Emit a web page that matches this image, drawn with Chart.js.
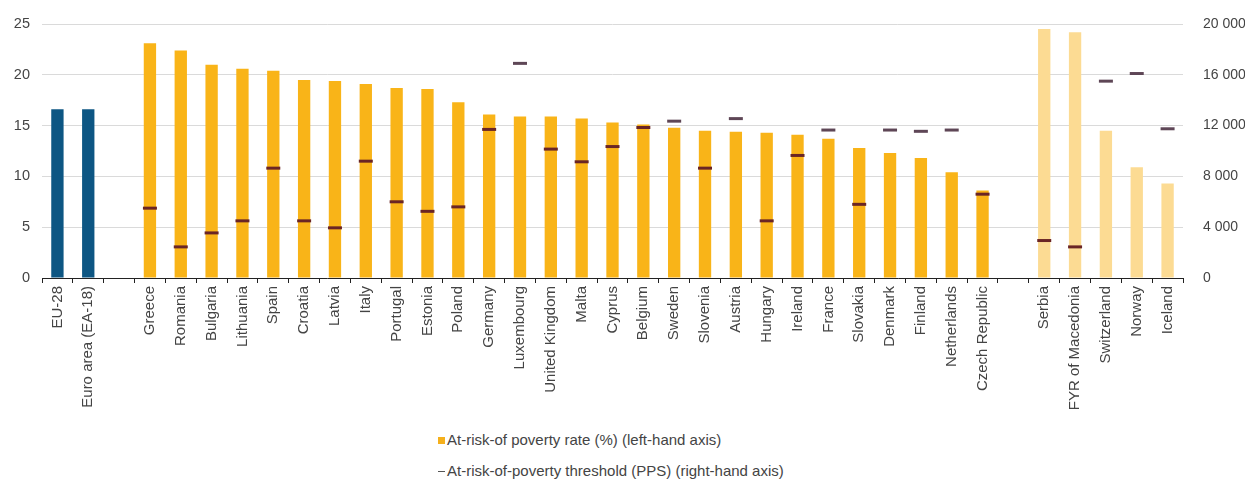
<!DOCTYPE html>
<html>
<head>
<meta charset="utf-8">
<script src="https://cdn.jsdelivr.net/npm/chart.js@4"></script>
<style>
  body { margin: 0; background: #fff; font-family: "Liberation Sans", Arial, sans-serif; }
  #wrap { width: 1245px; height: 428px; }
  #legend { margin-left: 438px; font-size: 15px; color: #444; }
  #legend div { height: 31px; line-height: 24px; }
  .sq { display: inline-block; width: 7px; height: 7px; background: #f5b01c; margin-right: 2px; vertical-align: 1px; }
  .dash { display: inline-block; width: 7px; height: 1px; background: #555; margin-right: 2px; vertical-align: 4px; }
</style>
</head>
<body>
<div id="wrap"><canvas id="povertyChart"></canvas></div>
<div id="legend">
  <div><span class="sq"></span>At-risk-of poverty rate (%) (left-hand axis)</div>
  <div><span class="dash"></span>At-risk-of-poverty threshold (PPS) (right-hand axis)</div>
</div>
<script>
(() => {
  // categories (empty strings are the gaps between groups)
  const countries = [
    "EU-28", "Euro area (EA-18)", "",
    "Greece", "Romania", "Bulgaria", "Lithuania", "Spain", "Croatia", "Latvia", "Italy",
    "Portugal", "Estonia", "Poland", "Germany", "Luxembourg", "United Kingdom", "Malta",
    "Cyprus", "Belgium", "Sweden", "Slovenia", "Austria", "Hungary", "Ireland", "France",
    "Slovakia", "Denmark", "Finland", "Netherlands", "Czech Republic", "",
    "Serbia", "FYR of Macedonia", "Switzerland", "Norway", "Iceland"
  ];

  // at-risk-of-poverty rate (%)
  const povertyRate = [
    16.6, 16.6, null,
    23.1, 22.4, 21.0, 20.6, 20.4, 19.5, 19.4, 19.1,
    18.7, 18.6, 17.3, 16.1, 15.9, 15.9, 15.7,
    15.3, 15.1, 14.8, 14.5, 14.4, 14.3, 14.1, 13.7,
    12.8, 12.3, 11.8, 10.4, 8.6, null,
    24.5, 24.2, 14.5, 10.9, 9.3
  ];

  // at-risk-of-poverty threshold (PPS)
  const povertyThreshold = [
    null, null, null,
    5500, 2450, 3550, 4500, 8650, 4500, 3950, 9200,
    6000, 5250, 5600, 11700, 16900, 10150, 9150,
    10350, 11850, 12350, 8650, 12550, 4500, 9650, 11650,
    5800, 11650, 11550, 11650, 6600, null,
    2950, 2450, 15500, 16100, 11750
  ];

  const leftTicks = [0, 5, 10, 15, 20, 25];
  const rightTicks = [0, 4000, 8000, 12000, 16000, 20000];

  const aggregates = ["EU-28", "Euro area (EA-18)"];
  const nonEU = ["Serbia", "FYR of Macedonia", "Switzerland", "Norway", "Iceland"];

  const barColors = countries.map(c =>
    aggregates.includes(c) ? "#0d5683" : nonEU.includes(c) ? "#fcdb93" : "#f9b418");
  const markColors = povertyThreshold.map((t, i) =>
    t !== null && povertyRate[i] !== null && t / 800 > povertyRate[i] ? "#5e4656" : "#6a2525");

  const fmt = v => String(v).replace(/\B(?=(\d{3})+(?!\d))/g, " ");

  Chart.defaults.font.family = "'Liberation Sans', Arial, sans-serif";
  Chart.defaults.font.size = 12;
  Chart.defaults.color = "#444";

  const ctx = document.getElementById("povertyChart").getContext("2d");
  new Chart(ctx, {
    data: {
      labels: countries,
      datasets: [
        {
          type: "line",
          label: "At-risk-of-poverty threshold (PPS) (right-hand axis)",
          data: povertyThreshold,
          yAxisID: "y1",
          showLine: false,
          pointStyle: "line",
          pointRadius: 7,
          pointHoverRadius: 7,
          pointBorderWidth: 3,
          pointBorderColor: markColors,
          borderColor: markColors,
          order: 0
        },
        {
          type: "bar",
          label: "At-risk-of poverty rate (%) (left-hand axis)",
          data: povertyRate,
          yAxisID: "y",
          backgroundColor: barColors,
          barPercentage: 0.4,
          categoryPercentage: 1,
          order: 1
        }
      ]
    },
    options: {
      responsive: true,
      maintainAspectRatio: false,
      animation: false,
      layout: { padding: { top: 24, left: 0, right: 0, bottom: 0 } },
      plugins: {
        legend: { display: false },
        tooltip: { enabled: false }
      },
      scales: {
        x: {
          offset: true,
          afterFit: axis => { axis.height = 150; },
          grid: {
            offset: true,
            drawOnChartArea: false,
            drawTicks: true,
            tickLength: 5,
            color: "#222"
          },
          border: { color: "#222", width: 1 },
          ticks: {
            autoSkip: false,
            minRotation: 90,
            maxRotation: 90,
            color: "#444",
            font: { size: 15 },
            padding: 3
          }
        },
        y: {
          position: "left",
          min: 0,
          max: 25,
          afterBuildTicks: axis => { axis.ticks = leftTicks.map(v => ({ value: v })); },
          afterFit: axis => { axis.width = 42; },
          grid: { color: "#dadada", drawTicks: false },
          border: { display: false },
          ticks: { color: "#444", font: { size: 14.5 }, padding: 12 }
        },
        y1: {
          position: "right",
          min: 0,
          max: 20000,
          afterBuildTicks: axis => { axis.ticks = rightTicks.map(v => ({ value: v })); },
          afterFit: axis => { axis.width = 62; },
          grid: { display: false },
          border: { display: false },
          ticks: { color: "#444", font: { size: 14 }, padding: 12, callback: v => fmt(v) }
        }
      }
    }
  });
})();
</script>
</body>
</html>
